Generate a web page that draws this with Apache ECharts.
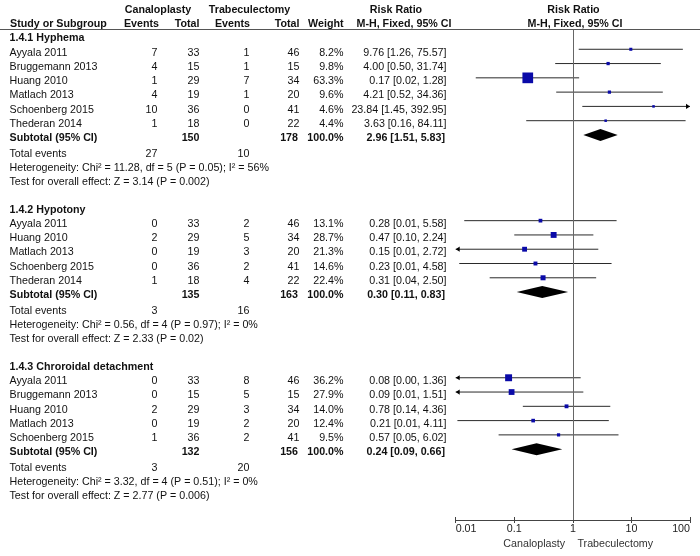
<!DOCTYPE html>
<html><head><meta charset="utf-8">
<script src="https://cdn.jsdelivr.net/npm/echarts@6/dist/echarts.min.js"></script>
<style>html,body{margin:0;padding:0;background:#fff}#c{width:700px;height:556px}</style>
</head><body><div id="c"></div>
<script>
// ---------------- DATA ----------------
const groupNames = ['1.4.1 Hyphema', '1.4.2 Hypotony', '1.4.3 Chroroidal detachment'];

const hyStudy = ['Ayyala 2011', 'Bruggemann 2013', 'Huang 2010', 'Matlach 2013', 'Schoenberg 2015', 'Thederan 2014'];
const hyCanE = [7, 4, 1, 4, 10, 1];
const hyCanN = [33, 15, 29, 19, 36, 18];
const hyTrbE = [1, 1, 7, 1, 0, 0];
const hyTrbN = [46, 15, 34, 20, 41, 22];
const hyW = [8.2, 9.8, 63.3, 9.6, 4.6, 4.4];
const hyRR = [9.76, 4.00, 0.17, 4.21, 23.84, 3.63];
const hyLo = [1.26, 0.50, 0.022, 0.52, 1.45, 0.16];
const hyHi = [75.57, 31.74, 1.28, 34.36, 392.95, 84.11];

const hpStudy = ['Ayyala 2011', 'Huang 2010', 'Matlach 2013', 'Schoenberg 2015', 'Thederan 2014'];
const hpCanE = [0, 2, 0, 0, 1];
const hpCanN = [33, 29, 19, 36, 18];
const hpTrbE = [2, 5, 3, 2, 4];
const hpTrbN = [46, 34, 20, 41, 22];
const hpW = [13.1, 28.7, 21.3, 14.6, 22.4];
const hpRR = [0.28, 0.47, 0.15, 0.23, 0.31];
const hpLo = [0.014, 0.10, 0.008, 0.0115, 0.038];
const hpHi = [5.58, 2.24, 2.72, 4.58, 2.50];

const chStudy = ['Ayyala 2011', 'Bruggemann 2013', 'Huang 2010', 'Matlach 2013', 'Schoenberg 2015'];
const chCanE = [0, 0, 2, 0, 1];
const chCanN = [33, 15, 29, 19, 36];
const chTrbE = [8, 5, 3, 2, 2];
const chTrbN = [46, 15, 34, 20, 41];
const chW = [36.2, 27.9, 14.0, 12.4, 9.5];
const chRR = [0.08, 0.09, 0.78, 0.21, 0.57];
const chLo = [0.004, 0.006, 0.14, 0.0107, 0.054];
const chHi = [1.36, 1.51, 4.36, 4.11, 6.02];

const subCanN = [150, 135, 132];
const subTrbN = [178, 163, 156];
const subRR = [2.96, 0.30, 0.24];
const subLo = [1.51, 0.11, 0.09];
const subHi = [5.83, 0.83, 0.66];
const totCanE = [27, 3, 3];
const totTrbE = [10, 16, 20];
const hetText = [
  'Heterogeneity: Chi\u00b2 = 11.28, df = 5 (P = 0.05); I\u00b2 = 56%',
  'Heterogeneity: Chi\u00b2 = 0.56, df = 4 (P = 0.97); I\u00b2 = 0%',
  'Heterogeneity: Chi\u00b2 = 3.32, df = 4 (P = 0.51); I\u00b2 = 0%'
];
const effText = [
  'Test for overall effect: Z = 3.14 (P = 0.002)',
  'Test for overall effect: Z = 2.33 (P = 0.02)',
  'Test for overall effect: Z = 2.77 (P = 0.006)'
];
const xTicks = [0.01, 0.1, 1, 10, 100];
const xTickLabels = ['0.01', '0.1', '1', '10', '100'];
const sideLabels = ['Canaloplasty', 'Trabeculectomy'];

// ---------------- LAYOUT / STYLE ----------------
const FONT = '"Liberation Sans", Arial, Helvetica, sans-serif';
const FS = 10.7;
const TXT_DY = 3.3;
const COL = {name: 9.5, canE: 157.5, canN: 199.5, trbE: 249.5, trbN: 299.5, w: 343.5, ci: 446.5};
const FOOT_ROW = 35.41;
const BLUE = '#0a0aa8';

const groups = [
  {s: hyStudy, ce: hyCanE, cn: hyCanN, te: hyTrbE, tn: hyTrbN, w: hyW, rr: hyRR, lo: hyLo, hi: hyHi},
  {s: hpStudy, ce: hpCanE, cn: hpCanN, te: hpTrbE, tn: hpTrbN, w: hpW, rr: hpRR, lo: hpLo, hi: hpHi},
  {s: chStudy, ce: chCanE, cn: chCanN, te: chTrbE, tn: chTrbN, w: chW, rr: chRR, lo: chLo, hi: chHi}
];

const f2 = v => v.toFixed(2);
const ciStr = (r, l, h) => f2(r) + ' [' + f2(l) + ', ' + f2(h) + ']';
const cell = (t, x, align, bold, extra) => Object.assign({t: String(t), x, align, bold: !!bold}, extra || {});

const tableRows = [];
const plotData = [];
tableRows.push({row: -2, cells: [
  cell('Canaloplasty', 158, 'center', 1), cell('Trabeculectomy', 249.5, 'center', 1),
  cell('Risk Ratio', 396, 'center', 1), cell('Risk Ratio', 573.5, 'center', 1)]});
tableRows.push({row: -1, cells: [
  cell('Study or Subgroup', 10, 'left', 1), cell('Events', 159, 'right', 1), cell('Total', 199.5, 'right', 1),
  cell('Events', 250, 'right', 1), cell('Total', 299.5, 'right', 1), cell('Weight', 343.5, 'right', 1),
  cell('M-H, Fixed, 95% CI', 451.5, 'right', 1), cell('M-H, Fixed, 95% CI', 575, 'center', 1)]});

let base = 0;
groups.forEach((g, gi) => {
  tableRows.push({row: base, cells: [cell(groupNames[gi], COL.name, 'left', 1)]});
  g.s.forEach((name, i) => {
    const r = base + 1 + i;
    tableRows.push({row: r, cells: [
      cell(name, COL.name, 'left'), cell(g.ce[i], COL.canE, 'right'), cell(g.cn[i], COL.canN, 'right'),
      cell(g.te[i], COL.trbE, 'right'), cell(g.tn[i], COL.trbN, 'right'),
      cell(g.w[i].toFixed(1) + '%', COL.w, 'right'), cell(ciStr(g.rr[i], g.lo[i], g.hi[i]), COL.ci, 'right')]});
    plotData.push([g.rr[i], r, g.w[i], g.lo[i], g.hi[i], 0]);
  });
  const rs = base + g.s.length + 1;
  tableRows.push({row: rs, cells: [
    cell('Subtotal (95% CI)', COL.name, 'left', 1), cell(subCanN[gi], COL.canN, 'right', 1),
    cell(subTrbN[gi], COL.trbN - 1.5, 'right', 1), cell('100.0%', COL.w, 'right', 1),
    cell(ciStr(subRR[gi], subLo[gi], subHi[gi]), COL.ci - 1.5, 'right', 1)]});
  plotData.push([subRR[gi], rs, 100, subLo[gi], subHi[gi], 1]);
  tableRows.push({row: rs + 1, dy: 1.2, cells: [
    cell('Total events', COL.name, 'left'), cell(totCanE[gi], COL.canE, 'right'), cell(totTrbE[gi], COL.trbE, 'right')]});
  tableRows.push({row: rs + 2, dy: 1.2, cells: [cell(hetText[gi], COL.name, 'left')]});
  tableRows.push({row: rs + 3, dy: 1.2, cells: [cell(effText[gi], COL.name, 'left')]});
  base = rs + 5;
});
tableRows.push({row: FOOT_ROW, cells: [
  cell(sideLabels[0], -7.7, 'right', 0, {rel: 1, color: '#333'}),
  cell(sideLabels[1], 4.6, 'left', 0, {rel: 1, color: '#333'})]});

const chart = echarts.init(document.getElementById('c'), null, {renderer: 'canvas'});

function renderTable(params, api) {
  const tr = tableRows[api.value(2)];
  const p = api.coord([1, api.value(1)]);
  const y = p[1] + TXT_DY + (tr.dy || 0);
  return {
    type: 'group',
    children: tr.cells.map(c => ({
      type: 'text',
      x: c.rel ? p[0] + c.x : c.x,
      y: y,
      style: {
        text: c.t,
        font: (c.bold ? 'bold ' : '') + FS + 'px ' + FONT,
        fill: c.color || '#111',
        align: c.align, verticalAlign: 'middle',
        textAlign: c.align, textVerticalAlign: 'middle'
      }
    }))
  };
}

function renderPlot(params, api) {
  const rr = api.value(0), row = api.value(1), w = api.value(2);
  const lo = api.value(3), hi = api.value(4), kind = api.value(5);
  const c = api.coord([rr, row]);
  const pl = api.coord([Math.max(lo, xTicks[0]), row]);
  const ph = api.coord([Math.min(hi, xTicks[xTicks.length - 1]), row]);
  const y = c[1];
  if (kind === 1) {
    return {type: 'polygon', shape: {points: [[pl[0], y], [c[0], y - 6], [ph[0], y], [c[0], y + 6]]},
      style: {fill: '#000'}};
  }
  const ch = [{type: 'line', shape: {x1: pl[0], y1: y, x2: ph[0], y2: y}, style: {stroke: '#2a2a2a', lineWidth: 1}}];
  if (lo < xTicks[0]) ch.push({type: 'polygon', shape: {points: [[pl[0], y], [pl[0] + 4, y - 2.6], [pl[0] + 4, y + 2.6]]}, style: {fill: '#000'}});
  if (hi > xTicks[xTicks.length - 1]) ch.push({type: 'polygon', shape: {points: [[ph[0], y], [ph[0] - 4, y - 2.6], [ph[0] - 4, y + 2.6]]}, style: {fill: '#000'}});
  const s = 1.9 + 0.139 * w;
  ch.push({type: 'rect', shape: {x: c[0] - s / 2, y: y - s / 2, width: s, height: s}, style: {fill: BLUE}});
  return {type: 'group', children: ch};
}

const axisCommon = {type: 'log', logBase: 10, min: xTicks[0], max: xTicks[xTicks.length - 1], splitNumber: 4,
  position: 'bottom', splitLine: {show: false}};

chart.setOption({
  animation: false,
  backgroundColor: '#fff',
  grid: {left: 455.7, right: 10, top: 29, bottom: 36, containLabel: false},
  xAxis: [
    Object.assign({}, axisCommon, {
      axisLine: {show: true, onZero: false, lineStyle: {color: '#444', width: 1}},
      axisTick: {show: true, inside: false, length: 3, lineStyle: {color: '#444'}},
      axisLabel: {show: true, margin: 4, fontSize: FS, fontFamily: FONT, color: '#222',
        alignMinLabel: 'left', alignMaxLabel: 'right',
        formatter: v => {
          let best = 0;
          xTicks.forEach((t, i) => { if (Math.abs(Math.log10(t) - Math.log10(v)) < Math.abs(Math.log10(xTicks[best]) - Math.log10(v))) best = i; });
          return xTickLabels[best];
        }}
    }),
    Object.assign({}, axisCommon, {
      axisLine: {show: false, onZero: false},
      axisTick: {show: true, inside: true, length: 3, lineStyle: {color: '#444'}},
      axisLabel: {show: false}
    })
  ],
  yAxis: {type: 'value', inverse: true, min: -0.42, max: 33.96, show: false},
  graphic: [{type: 'line', shape: {x1: 0, y1: 29.5, x2: 700, y2: 29.5}, style: {stroke: '#555', lineWidth: 1.2}, z: 10}],
  series: [
    {type: 'line', data: [], xAxisIndex: 0,
      markLine: {silent: true, symbol: 'none', label: {show: false}, animation: false,
        lineStyle: {color: '#666', width: 1, type: 'solid'}, data: [{xAxis: 1}]}},
    {type: 'custom', name: 'plot', xAxisIndex: 0, clip: false, encode: {x: 0, y: 1},
      data: plotData, renderItem: renderPlot, z: 3},
    {type: 'custom', name: 'table', xAxisIndex: 0, clip: false, encode: {x: 0, y: 1},
      data: tableRows.map((r, i) => [1, r.row, i]), renderItem: renderTable, z: 4}
  ]
});
</script>
</body></html>
